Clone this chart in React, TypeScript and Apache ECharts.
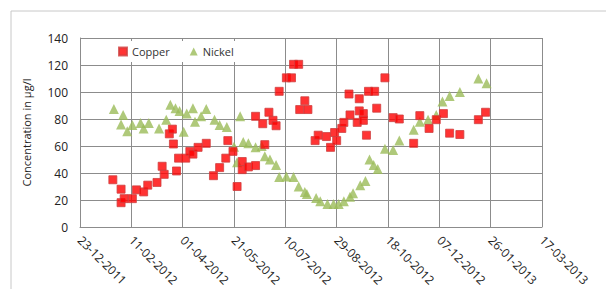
import React, { useEffect, useRef } from "react";
import * as echarts from "echarts";

// Days since 23-12-2011 and concentrations (µg/l)
const startDate = Date.UTC(2011, 11, 23);
const xTickInterval = 50;
const xMax = 450;
const yTicks = [0, 20, 40, 60, 80, 100, 120, 140];

const copperDays = [32, 40, 40, 43, 51, 55, 62, 66, 75, 80, 82, 87, 90, 91, 94, 96, 103, 107, 110, 115, 123, 130, 136, 142, 144, 149, 153, 158, 158, 164, 171, 171, 178, 180, 184, 188, 191, 194, 201, 206, 208, 213, 214, 219, 222, 229, 232, 240, 244, 248, 250, 255, 257, 262, 263, 270, 272, 272, 276, 276, 279, 281, 287, 289, 297, 305, 311, 325, 331, 340, 347, 354, 360, 370, 388, 395];
const copperValues = [35, 28, 18, 21, 21, 27.5, 26, 31, 33, 45, 39, 69, 72.5, 61.5, 41.5, 51, 51, 56, 54, 59, 62, 38, 44, 51, 64, 56, 30, 48.5, 42.5, 44.5, 45.5, 82, 76.5, 61, 85, 79, 75, 100.5, 110.5, 110.5, 120.5, 120.5, 87, 93.5, 87, 64, 68, 67, 59, 70, 64, 73, 77.5, 98.5, 83, 77.5, 86, 95, 84, 79, 68, 100.5, 100.5, 88, 110.5, 81, 80, 62, 82.5, 73, 79.5, 84, 69.5, 68.5, 79.5, 85];

const nickelDays = [33, 42, 40, 46, 51, 59, 67, 62, 77, 84, 88, 93, 97, 101, 104, 110, 112, 118, 123, 131, 136, 143, 150, 153, 156, 159, 164, 171, 177, 180, 185, 191, 194, 201, 208, 213, 219, 221, 230, 234, 241, 247, 252, 257, 263, 266, 273, 278, 282, 286, 290, 297, 305, 311, 325, 331, 339, 347, 353, 360, 370, 388, 396];
const nickelValues = [87.5, 83, 76, 71, 75.5, 77, 77, 73, 73, 79.5, 90.5, 88, 86, 70.5, 84, 88, 78, 82, 87.5, 79.5, 75.5, 74, 59.5, 48, 82, 63, 62, 59, 60, 52.5, 50, 46, 37, 37.5, 37, 30, 26, 24.5, 21.5, 19, 17, 17, 17, 19, 22.5, 25, 31, 34, 50, 46, 43, 58, 57, 64, 72, 78, 79.5, 83, 93, 97, 100, 110, 106.5];

function fmtDate(v: number): string {
  const d = new Date(startDate + v * 86400000);
  const dd = String(d.getUTCDate()).padStart(2, "0");
  const mm = String(d.getUTCMonth() + 1).padStart(2, "0");
  return `${dd}-${mm}-${d.getUTCFullYear()}`;
}

export default function App() {
  const ref = useRef<HTMLDivElement>(null);
  useEffect(() => {
    document.body.style.margin = "0";
    if (!ref.current) return;
    const chart = echarts.init(ref.current, null, { renderer: "svg" });
    const gridColor = "#8c8c8c";
    const font = "Open Sans";
    chart.setOption({
      animation: false,
      backgroundColor: "#ffffff",
      textStyle: { fontFamily: font },
      graphic: [
        {
          type: "rect",
          shape: { x: 11, y: 11, width: 700, height: 400 },
          style: { fill: "none", stroke: "#c8c8c8", lineWidth: 1 },
          silent: true,
        },
      ],
      grid: { left: 80, right: 64, top: 38, bottom: 62 },
      legend: {
        left: 108,
        top: 41,
        padding: [5, 10],
        backgroundColor: "#ffffff",
        itemWidth: 8,
        itemHeight: 8,
        itemGap: 20,
        textStyle: { fontFamily: font, fontSize: 11, color: "#333" },
        data: [
          { name: "Copper", icon: "rect" },
          { name: "Nickel", icon: "triangle" },
        ],
      },
      xAxis: {
        type: "value",
        min: 0,
        max: xMax,
        interval: xTickInterval,
        axisLine: { lineStyle: { color: gridColor } },
        axisTick: { show: false },
        splitLine: { show: true, lineStyle: { color: gridColor } },
        axisLabel: {
          rotate: -45,
          color: "#222",
          fontSize: 12,
          margin: 11,
          formatter: (v: number) => fmtDate(v),
        },
      },
      yAxis: {
        type: "value",
        min: yTicks[0],
        max: yTicks[yTicks.length - 1],
        interval: 20,
        name: "Concentration in µg/l",
        nameLocation: "middle",
        nameGap: 48,
        nameTextStyle: { fontFamily: font, fontSize: 11, color: "#222" },
        axisLine: { show: true, lineStyle: { color: gridColor } },
        axisTick: { show: false },
        splitLine: { show: true, lineStyle: { color: gridColor } },
        axisLabel: { color: "#222", fontSize: 12, margin: 12 },
      },
      series: [
        {
          name: "Nickel",
          type: "scatter",
          symbol: "triangle",
          symbolSize: 10,
          z: 2,
          itemStyle: { color: "#9bbb59" },
          data: nickelDays.map((d, i) => [d, nickelValues[i]]),
        },
        {
          name: "Copper",
          type: "scatter",
          symbol: "rect",
          symbolSize: 8,
          z: 3,
          itemStyle: { color: "#ff0000", borderColor: "#d04040", borderWidth: 1 },
          data: copperDays.map((d, i) => [d, copperValues[i]]),
        },
      ],
    });
    return () => chart.dispose();
  }, []);
  return <div ref={ref} style={{ width: 606, height: 289 }} />;
}
